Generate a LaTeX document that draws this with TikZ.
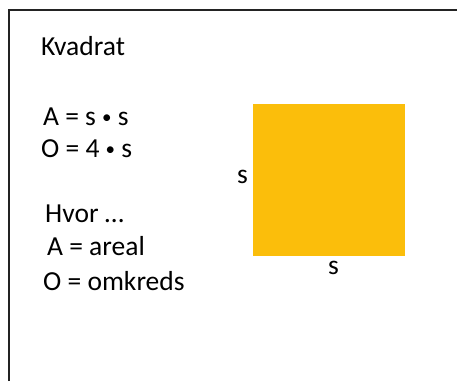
\documentclass[tikz,border=0pt]{standalone}
\usepackage{fontspec}
\setmainfont{Carlito}
\definecolor{kvadratgul}{RGB}{251,190,11}
\definecolor{rammegraa}{RGB}{35,35,35}
\newcommand{\gangeprik}{\raisebox{2pt}{\fontsize{19}{19}\selectfont\textbullet}}

\begin{document}
\begin{tikzpicture}
[x=1pt, y=-1pt, every node/.style={inner sep=0pt, anchor=base west, font=\fontsize{27.5}{33}\selectfont}]
\useasboundingbox (0,0) rectangle (457,381);
\draw [line width=2pt, color=rammegraa] (8.5,381) -- (8.5,9.5) -- (457,9.5);
\fill [kvadratgul] (253,104) rectangle (405,256);
\node (titel) at (41,55) {Kvadrat};
\node (areal) at (43,125) {A = s \gangeprik\ s};
\node (omkreds) at (41,157) {O = 4 \gangeprik\ s};
\node (hvor) at (45,222) {Hvor …};
\node (aforkl) at (47,255) {A = areal};
\node (oforkl) at (43,290) {O = omkreds};
\node (sideV) at (237,183) {s};
\node (sideN) at (328,274) {s};
\end{tikzpicture}
\end{document}
